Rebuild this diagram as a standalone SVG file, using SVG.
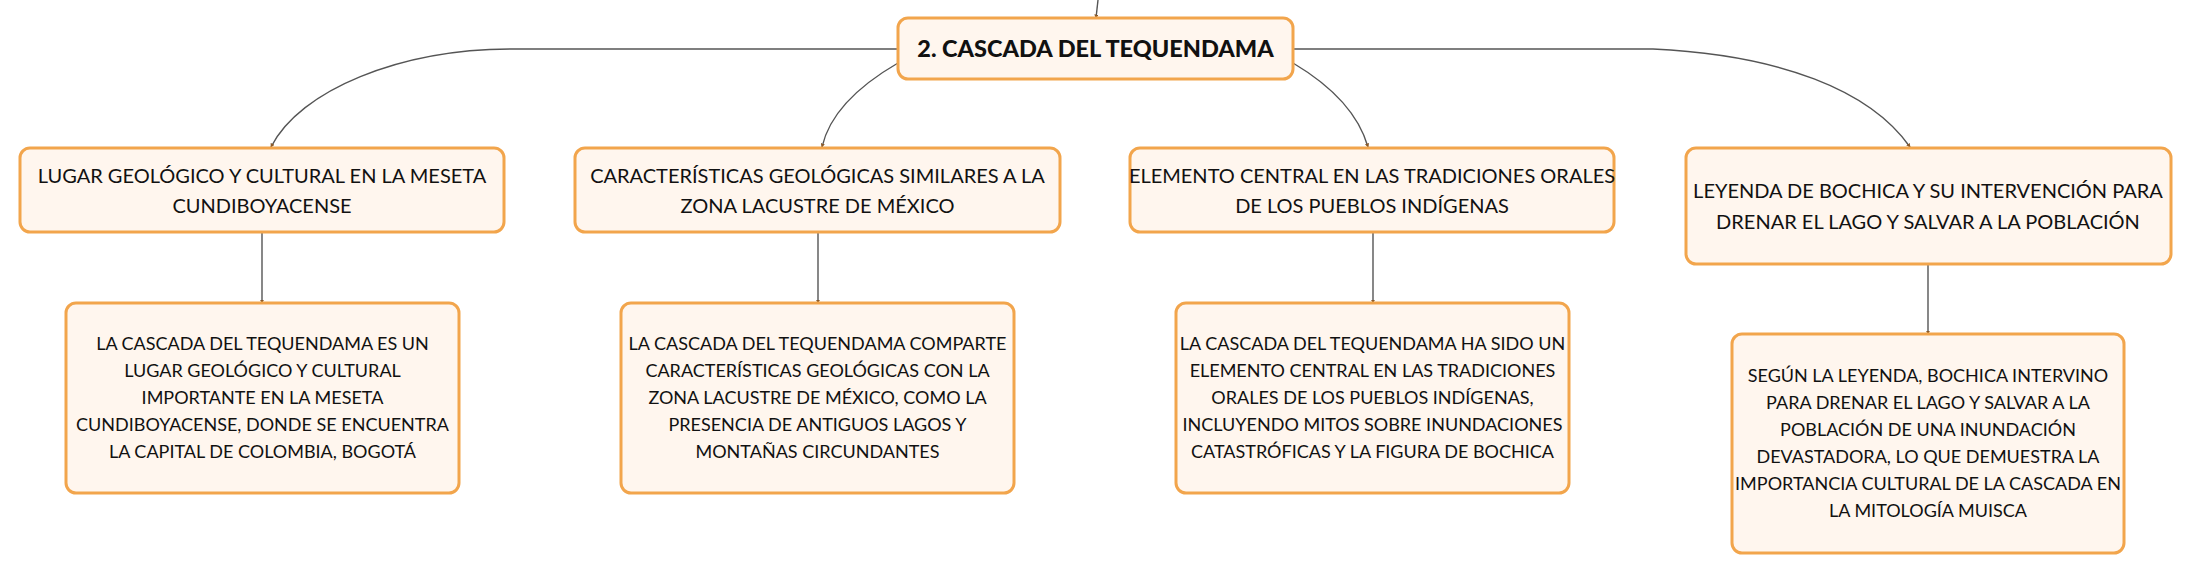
<svg xmlns="http://www.w3.org/2000/svg" width="2191" height="574" viewBox="0 0 2191 574">
<style>
.box{fill:#fff6ee;stroke:#f2a54c;stroke-width:3}
.t{font-family:Lato,"Open Sans","Liberation Sans",sans-serif;fill:#111;text-anchor:middle}
.m{font-size:20px}
.s{font-size:18px}
.c{font-size:23.5px;font-weight:900}
.e{fill:none;stroke:#555;stroke-width:1.4;marker-end:url(#a)}
</style>
<defs>
<marker id="a" viewBox="0 0 6 6" refX="5" refY="3" markerWidth="3" markerHeight="3" markerUnits="strokeWidth" orient="auto">
<path d="M0,0 L6,3 L0,6 z" fill="#8a5a2a"/>
</marker>
</defs>
<rect width="2191" height="574" fill="#ffffff"/>
<g id="connectors">
<path class="e" d="M1098,0 L1096,18"/>
<path class="e" d="M898,49 H512 C400,49 300,90 271,147"/>
<path class="e" d="M898,63 C860,85 830,112 822,147"/>
<path class="e" d="M1293,63 C1330,85 1358,112 1368,147"/>
<path class="e" d="M1293,49 H1653 C1780,55 1870,90 1910,147"/>
<path class="e" d="M262,232 V303"/>
<path class="e" d="M818,232 V303"/>
<path class="e" d="M1373,232 V303"/>
<path class="e" d="M1928,264 V334"/>
</g>
<g id="central">
<rect class="box" x="898" y="18" width="395" height="61" rx="10"/>
<text class="t c" x="1095.5" y="57">2. CASCADA DEL TEQUENDAMA</text>
</g>
<g id="n1">
<rect class="box" x="20" y="148" width="484" height="84" rx="10"/>
<text class="t m" x="262" y="183">LUGAR GEOLÓGICO Y CULTURAL EN LA MESETA</text>
<text class="t m" x="262" y="213">CUNDIBOYACENSE</text>
</g>
<g id="n2">
<rect class="box" x="575" y="148" width="485" height="84" rx="10"/>
<text class="t m" x="817.5" y="183">CARACTERÍSTICAS GEOLÓGICAS SIMILARES A LA</text>
<text class="t m" x="817.5" y="213">ZONA LACUSTRE DE MÉXICO</text>
</g>
<g id="n3">
<rect class="box" x="1130" y="148" width="484" height="84" rx="10"/>
<text class="t m" x="1372" y="183">ELEMENTO CENTRAL EN LAS TRADICIONES ORALES</text>
<text class="t m" x="1372" y="213">DE LOS PUEBLOS INDÍGENAS</text>
</g>
<g id="n4">
<rect class="box" x="1686" y="148" width="485" height="116" rx="10"/>
<text class="t m" x="1928" y="198">LEYENDA DE BOCHICA Y SU INTERVENCIÓN PARA</text>
<text class="t m" x="1928" y="229">DRENAR EL LAGO Y SALVAR A LA POBLACIÓN</text>
</g>
<g id="c1">
<rect class="box" x="66" y="303" width="393" height="190" rx="10"/>
<text class="t s" x="262.5" y="350">LA CASCADA DEL TEQUENDAMA ES UN</text>
<text class="t s" x="262.5" y="377">LUGAR GEOLÓGICO Y CULTURAL</text>
<text class="t s" x="262.5" y="404">IMPORTANTE EN LA MESETA</text>
<text class="t s" x="262.5" y="431">CUNDIBOYACENSE, DONDE SE ENCUENTRA</text>
<text class="t s" x="262.5" y="458">LA CAPITAL DE COLOMBIA, BOGOTÁ</text>
</g>
<g id="c2">
<rect class="box" x="621" y="303" width="393" height="190" rx="10"/>
<text class="t s" x="817.5" y="350">LA CASCADA DEL TEQUENDAMA COMPARTE</text>
<text class="t s" x="817.5" y="377">CARACTERÍSTICAS GEOLÓGICAS CON LA</text>
<text class="t s" x="817.5" y="404">ZONA LACUSTRE DE MÉXICO, COMO LA</text>
<text class="t s" x="817.5" y="431">PRESENCIA DE ANTIGUOS LAGOS Y</text>
<text class="t s" x="817.5" y="458">MONTAÑAS CIRCUNDANTES</text>
</g>
<g id="c3">
<rect class="box" x="1176" y="303" width="393" height="190" rx="10"/>
<text class="t s" x="1372.5" y="350">LA CASCADA DEL TEQUENDAMA HA SIDO UN</text>
<text class="t s" x="1372.5" y="377">ELEMENTO CENTRAL EN LAS TRADICIONES</text>
<text class="t s" x="1372.5" y="404">ORALES DE LOS PUEBLOS INDÍGENAS,</text>
<text class="t s" x="1372.5" y="431">INCLUYENDO MITOS SOBRE INUNDACIONES</text>
<text class="t s" x="1372.5" y="458">CATASTRÓFICAS Y LA FIGURA DE BOCHICA</text>
</g>
<g id="c4">
<rect class="box" x="1732" y="334" width="392" height="219" rx="10"/>
<text class="t s" x="1928" y="382">SEGÚN LA LEYENDA, BOCHICA INTERVINO</text>
<text class="t s" x="1928" y="409">PARA DRENAR EL LAGO Y SALVAR A LA</text>
<text class="t s" x="1928" y="436">POBLACIÓN DE UNA INUNDACIÓN</text>
<text class="t s" x="1928" y="463">DEVASTADORA, LO QUE DEMUESTRA LA</text>
<text class="t s" x="1928" y="490">IMPORTANCIA CULTURAL DE LA CASCADA EN</text>
<text class="t s" x="1928" y="517">LA MITOLOGÍA MUISCA</text>
</g>
</svg>
